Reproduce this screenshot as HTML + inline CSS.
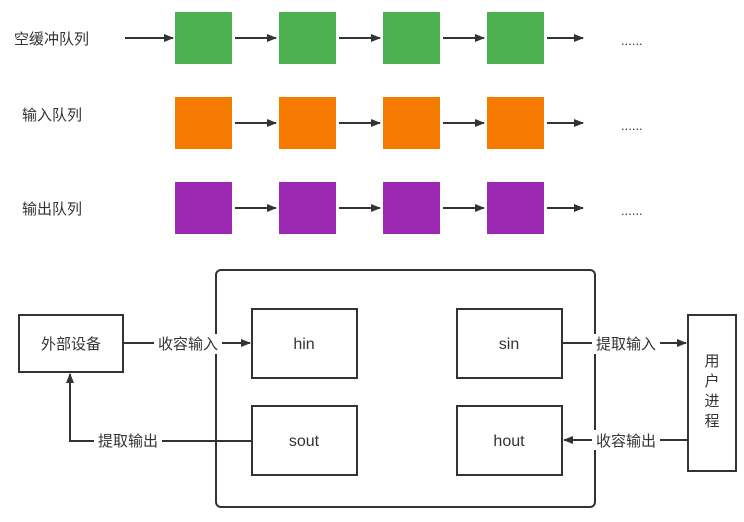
<!DOCTYPE html>
<html><head><meta charset="utf-8"><style>
body{margin:0;background:#fff;}
svg text{font-family:"Liberation Sans","Noto Sans CJK SC",sans-serif;fill:#333;}
</style></head><body>
<svg width="744" height="517" viewBox="0 0 744 517" xmlns="http://www.w3.org/2000/svg">
<defs><marker id="a" markerWidth="10" markerHeight="8" refX="9" refY="4" orient="auto" markerUnits="userSpaceOnUse"><path d="M0,0 L10,4 L0,8 Z" fill="#333"/></marker></defs>
<g font-size="15">
<text x="14" y="44">空缓冲队列</text>
<text x="22" y="120">输入队列</text>
<text x="22" y="214">输出队列</text>
</g>
<g fill="#4caf50"><rect x="175" y="12" width="57" height="52"/><rect x="279" y="12" width="57" height="52"/><rect x="383" y="12" width="57" height="52"/><rect x="487" y="12" width="57" height="52"/></g>
<g fill="#f57c00"><rect x="175" y="97" width="57" height="52"/><rect x="279" y="97" width="57" height="52"/><rect x="383" y="97" width="57" height="52"/><rect x="487" y="97" width="57" height="52"/></g>
<g fill="#9c27b0"><rect x="175" y="182" width="57" height="52"/><rect x="279" y="182" width="57" height="52"/><rect x="383" y="182" width="57" height="52"/><rect x="487" y="182" width="57" height="52"/></g>
<g stroke="#333" stroke-width="2" marker-end="url(#a)">
<line x1="125" y1="38" x2="173" y2="38"/>
<line x1="235" y1="38" x2="276" y2="38"/><line x1="339" y1="38" x2="380" y2="38"/><line x1="443" y1="38" x2="484" y2="38"/><line x1="547" y1="38" x2="583" y2="38"/>
<line x1="235" y1="123" x2="276" y2="123"/><line x1="339" y1="123" x2="380" y2="123"/><line x1="443" y1="123" x2="484" y2="123"/><line x1="547" y1="123" x2="583" y2="123"/>
<line x1="235" y1="208" x2="276" y2="208"/><line x1="339" y1="208" x2="380" y2="208"/><line x1="443" y1="208" x2="484" y2="208"/><line x1="547" y1="208" x2="583" y2="208"/>
</g>
<g font-size="13"><text x="621" y="45">......</text><text x="621" y="130">......</text><text x="621" y="215">......</text></g>
<g fill="none" stroke="#333" stroke-width="2">
<rect x="216" y="270" width="379" height="237" rx="5"/>
<rect x="19" y="315" width="104" height="57"/>
<rect x="252" y="309" width="105" height="69"/>
<rect x="252" y="406" width="105" height="69"/>
<rect x="457" y="309" width="105" height="69"/>
<rect x="457" y="406" width="105" height="69"/>
<rect x="688" y="315" width="48" height="156"/>
</g>
<g stroke="#333" stroke-width="2" fill="none">
<line x1="123" y1="343" x2="250" y2="343" marker-end="url(#a)"/>
<polyline points="252,441 70,441 70,374" marker-end="url(#a)"/>
<line x1="562" y1="343" x2="686" y2="343" marker-end="url(#a)"/>
<line x1="688" y1="440" x2="564" y2="440" marker-end="url(#a)"/>
</g>
<g fill="#fff"><rect x="154" y="334" width="68" height="20"/><rect x="94" y="431" width="68" height="20"/><rect x="592" y="334" width="68" height="20"/><rect x="592" y="430" width="68" height="20"/></g>
<g font-size="15" text-anchor="middle">
<text x="188" y="349">收容输入</text>
<text x="128" y="446">提取输出</text>
<text x="626" y="349">提取输入</text>
<text x="626" y="446">收容输出</text>
<text x="71" y="349">外部设备</text>
<text x="304" y="349" font-size="16">hin</text>
<text x="304" y="446" font-size="16">sout</text>
<text x="509" y="349" font-size="16">sin</text>
<text x="509" y="446" font-size="16">hout</text>
<text x="712" y="366">用</text><text x="712" y="386">户</text><text x="712" y="406">进</text><text x="712" y="426">程</text>
</g>
</svg>
</body></html>
